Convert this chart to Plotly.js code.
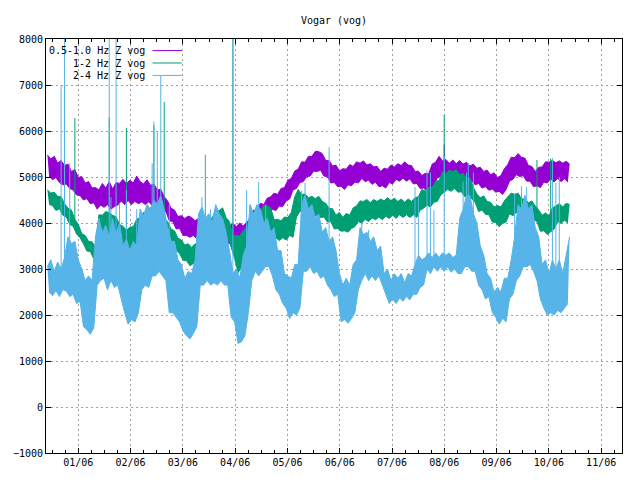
<!DOCTYPE html>
<html><head><meta charset="utf-8">
<script src="https://cdn.plot.ly/plotly-3.0.1.min.js"></script>
<style>html,body{margin:0;padding:0;background:#fff}#chart{width:640px;height:480px}</style>
</head><body><div id="chart"></div>
<script>
// Day numbers are relative to 2006-01-01; one reading per day starting at firstDay.
// Readings alternate between the upper and lower edge of each noisy band.
const firstDay = -18;
const seriesNames = ["0.5-1.0 Hz Z vog", "1-2 Hz Z vog", "2-4 Hz Z vog"];
const tickLabels = ["01/06","02/06","03/06","04/06","05/06","06/06","07/06","08/06","09/06","10/06","11/06"];
const monthStep = 30.4375; // gnuplot tic increment, in days

const band05_10 = [
5480,5020,5390,4940,5450,4990,5300,4880,5360,4830,
5250,4850,5280,4750,5120,4720,5160,4610,4990,4600,
5010,4500,4870,4530,4900,4420,4760,4440,4770,4300,
4720,4390,4860,4340,4760,4400,4900,4300,4740,4360,
4880,4390,4860,4480,4950,4400,4860,4490,4930,4400,
4870,4470,5020,4420,4900,4460,4850,4400,4940,4460,
4820,4380,4850,4290,4720,4310,4730,4220,4570,4250,
4480,4050,4320,4030,4280,3870,4140,3880,4160,3730,
4100,3730,4150,3690,4120,3730,4050,3660,4100,3630,
4030,3650,4080,3610,3970,3650,4090,3580,3950,3590,
3990,3540,3910,3600,4010,3550,3930,3570,3990,3540,
3920,3580,4000,3550,3930,3600,4020,3580,4080,3720,
4280,3830,4270,3970,4430,4030,4400,4120,4540,4180,
4570,4300,4650,4270,4620,4370,4750,4360,4770,4480,
4930,4520,4970,4720,5130,4750,5170,4880,5330,4900,
5320,5010,5450,5020,5450,5130,5560,5120,5550,5150,
5510,5020,5360,5010,5360,4870,5240,4880,5260,4790,
5130,4800,5180,4730,5170,4830,5270,4810,5230,4890,
5330,4870,5300,4970,5350,4900,5260,4930,5290,4840,
5220,4890,5230,4790,5120,4810,5190,4760,5170,4880,
5260,4850,5220,4950,5290,4910,5250,4980,5330,4910,
5260,4960,5250,4850,5120,4860,5130,4750,5030,4760,
5080,4690,5070,4780,5280,4800,5320,4980,5450,5010,
5350,5020,5380,4950,5300,4990,5370,4930,5290,4980,
5360,4930,5280,4970,5320,4890,5240,4910,5280,4830,
5190,4860,5210,4760,5120,4790,5150,4710,5050,4740,
5090,4670,4990,4690,5030,4620,5180,4730,5270,4910,
5430,4950,5420,5050,5510,5010,5430,5030,5410,4910,
5250,4910,5230,4790,5120,4810,5210,4770,5220,4890,
5330,4870,5320,4960,5360,4890,5310,4970,5350,4900,
5300,4960,5340,4890,5280];
const spikeDays05_10 = [213];
const spikeVals05_10 = [5700];

const band1_2 = [
4720,4400,4650,4380,4670,4270,4580,4310,4570,4170,
4420,4130,4320,3970,4280,3930,4080,3760,3970,3680,
3770,3550,3730,3390,3600,3380,3590,3220,3470,3210,
4180,3620,4170,3740,4250,3690,4220,3780,4170,3670,
4130,3590,3970,3580,3930,3450,3840,3480,3910,3370,
3920,3480,4080,3570,4120,3730,4230,3690,4220,3750,
4330,3720,4320,3780,4270,3690,4230,3710,4090,3620,
4030,3570,3870,3580,3830,3420,3670,3330,3630,3190,
3520,3180,3550,3070,3470,3120,3550,3060,3520,3180,
3680,3220,3870,3430,4030,3520,4120,3680,4280,3670,
4270,3830,4330,3750,4120,3680,4030,3470,3720,3230,
3730,2920,3720,3030,3830,3070,3920,3330,4130,3520,
4170,3780,4280,3750,4270,3830,4380,3790,4370,3880,
4330,3720,4070,3680,4080,3620,4050,3680,4130,3630,
4120,3730,4230,3690,4570,4130,4730,4250,4620,4250,
4630,4170,4550,4210,4580,4120,4530,4180,4580,4120,
4470,4130,4430,4020,4320,4030,4310,3870,4170,3880,
4230,3820,4120,3830,4210,3800,4170,3880,4330,3920,
4370,4030,4480,4000,4470,4080,4510,4030,4440,4110,
4510,4070,4470,4130,4520,4070,4480,4150,4550,4100,
4490,4170,4540,4100,4470,4180,4520,4120,4450,4180,
4520,4120,4470,4180,4550,4120,4570,4280,4730,4320,
4690,4390,4770,4350,4770,4450,4910,4470,4920,4610,
5110,4670,5070,4730,5150,4690,5120,4750,5160,4670,
5050,4680,5080,4570,4970,4610,4980,4520,4770,4450,
4630,4250,4550,4280,4590,4190,4470,4180,4450,4020,
4350,4010,4380,3920,4350,3990,4480,4020,4570,4200,
4650,4160,4620,4230,4650,4150,4520,4190,4530,4120,
4440,4150,4480,4070,4370,4030,4280,3820,4170,3830,
4220,3750,4150,3810,4330,3870,4370,4030,4420,3990,
4350,4060,4430,4000,4400];
const spikeDays1_2 = [-8, -2, 18, 28, 44, 50, 74, 90, 213, 267, 275];
const spikeVals1_2 = [7000, 6280, 6300, 6070, 6130, 6630, 5480, 8500, 6350, 5370, 5400];

const band2_4 = [
3050,2500,3200,2420,2950,2530,3150,2400,3000,2550,
3250,2520,3700,2400,3550,2450,3600,2250,3200,2300,
3000,1750,2750,1680,2850,1580,2750,1720,3700,2650,
4100,2750,3800,2800,3950,2550,3700,2750,4100,2600,
3750,2650,4000,2350,3500,2050,3650,1800,3400,1900,
3600,1850,3500,2050,4300,2550,4150,2650,4400,2600,
4300,2850,4500,2850,4400,2950,4600,2850,4300,2750,
3900,2050,3600,2050,3600,1950,3200,1850,3100,1650,
2800,1550,2950,1480,2900,1600,3200,1750,4200,2650,
4350,2650,4100,2750,4200,2650,4000,2700,4400,2650,
4200,2750,4100,2650,3800,2650,3400,1950,2900,1850,
3000,1380,2800,1420,3300,1550,3500,2050,4400,2750,
4200,2950,4400,2850,4300,2950,4000,3050,4100,3050,
3800,2850,3900,2550,3400,2450,3400,2250,2900,2150,
2850,1920,2800,2050,3100,2000,3100,2150,4400,2950,
4600,2950,4300,3050,4400,2900,4100,2950,4200,2800,
3800,2850,3900,2650,3600,2550,3700,2400,3400,2450,
2900,1850,2650,1900,2800,1820,2650,1920,3100,2050,
3200,2550,3900,2750,3750,2900,3800,2750,3600,2850,
3700,2750,3400,2850,3500,2650,2900,2450,3000,2250,
2750,2350,2900,2250,2800,2370,2900,2300,2700,2400,
2900,2330,2850,2450,3100,2450,3300,2600,3200,2650,
3250,3000,3350,2900,3250,3050,3350,2950,3250,3050,
3350,2950,3300,3050,3350,2930,3250,3000,3300,2900,
4100,2900,4300,3050,4600,3050,4600,2950,4200,2950,
4000,2650,3500,2550,3300,2350,2900,2400,2800,2050,
2500,1950,2600,1800,2500,1930,2800,1850,2800,2350,
3200,2450,3700,2750,4400,2850,4300,3050,4600,3050,
4300,3100,4400,2950,3900,2750,3700,2350,3100,2150,
3200,2000,2900,2050,3200,2000,3000,2100,3200,2050,
2900,2150,3300,2250,3700];
const spikeDays2_4 = [-10, -8, -5, 18, 19, 22, 24, 28, 34, 36, 43, 44, 46, 48, 53, 72, 74, 77, 83, 90,
  98, 100, 105, 109, 130, 132, 146, 165, 169, 196, 198, 203, 205, 207, 213, 224, 226, 227, 230,
  254, 258, 261, 276, 278, 280];
const spikeVals2_4 = [7000, 8500, 5300, 8500, 4560, 8500, 4430, 4720, 4300, 4280, 5300, 6200, 6000, 7200, 4430, 4560, 5480, 4300, 4000, 8500,
  4720, 4240, 4890, 4400, 4700, 4870, 5650, 4000, 3850, 4780, 4560, 5150, 5100, 4280, 5430, 4900, 5090, 5300, 5100,
  4650, 4800, 4780, 5410, 4870, 5000];

const colors = ["#9400d3", "#009e73", "#56b4e9"];
const bands = [band05_10, band1_2, band2_4];
const spikeDays = [spikeDays05_10, spikeDays1_2, spikeDays2_4];
const spikeVals = [spikeVals05_10, spikeVals1_2, spikeVals2_4];

const traces = [];
bands.forEach((vals, k) => {
  const loX = [], loY = [], hiX = [], hiY = [];
  vals.forEach((v, i) => {
    if (i % 2 === 0) { hiX.push(firstDay + i); hiY.push(v); }
    else { loX.push(firstDay + i); loY.push(v); }
  });
  traces.push({type: "scatter", mode: "lines", x: loX, y: loY,
    line: {color: colors[k], width: 1, simplify: false}, hoverinfo: "skip"});
  traces.push({type: "scatter", mode: "lines", x: hiX, y: hiY, fill: "tonexty",
    fillcolor: colors[k], line: {color: colors[k], width: 1, simplify: false}, hoverinfo: "skip"});
  const sx = [], sy = [];
  spikeDays[k].forEach((d, j) => {
    const idx = Math.min(Math.max(d - firstDay, 0), vals.length - 1);
    sx.push(d, d, null); sy.push(vals[idx], spikeVals[k][j], null);
  });
  traces.push({type: "scatter", mode: "lines", x: sx, y: sy,
    line: {color: colors[k], width: 1, simplify: false}, hoverinfo: "skip"});
});

const tickVals = tickLabels.map((_, i) => i * monthStep);

// legend drawn gnuplot-style: right-aligned text, sample line to the right
const legendRows = [0.972, 0.942, 0.912];
const annotations = seriesNames.map((n, k) => ({
  text: n, xref: "paper", yref: "paper", x: 0.1753, y: legendRows[k],
  xanchor: "right", yanchor: "middle", showarrow: false,
  font: {family: "DejaVu Sans Mono, monospace", size: 10, color: "#000"}
}));
const shapes = seriesNames.map((n, k) => ({
  type: "line", xref: "paper", yref: "paper", x0: 0.185, x1: 0.236,
  y0: legendRows[k], y1: legendRows[k], line: {color: colors[k], width: 1}
}));

const layout = {
  width: 640, height: 480,
  margin: {l: 46, r: 18, t: 39, b: 27, pad: 0},
  paper_bgcolor: "#fff", plot_bgcolor: "#fff",
  font: {family: "DejaVu Sans Mono, monospace", size: 10, color: "#000"},
  title: {text: "Vogar (vog)", x: 0.5, xref: "paper", xanchor: "center",
          y: 1 - 20/480, yref: "container", yanchor: "middle",
          font: {family: "DejaVu Sans Mono, monospace", size: 10, color: "#000"}},
  showlegend: false,
  annotations: annotations, shapes: shapes,
  xaxis: {
    range: [-18.8, 316.5], tickmode: "array", tickvals: tickVals, ticktext: tickLabels,
    ticks: "inside", ticklen: 5, tickwidth: 1, tickcolor: "#000",
    showline: true, linecolor: "#000", linewidth: 1, mirror: "ticks",
    showgrid: true, gridcolor: "#a0a0a0", griddash: "2px,3px", gridwidth: 1,
    zeroline: false,
    minor: {tickmode: "linear", tick0: 0, dtick: monthStep / 4, ticks: "inside",
            ticklen: 3, tickcolor: "#000", showgrid: false}
  },
  yaxis: {
    range: [-1000, 8000], tickmode: "linear", tick0: 0, dtick: 1000,
    ticks: "inside", ticklen: 5, tickwidth: 1, tickcolor: "#000",
    showline: true, linecolor: "#000", linewidth: 1, mirror: "ticks",
    showgrid: true, gridcolor: "#a0a0a0", griddash: "2px,3px", gridwidth: 1,
    zeroline: false
  }
};

Plotly.newPlot("chart", traces, layout, {displayModeBar: false, staticPlot: true});
</script>
</body></html>
